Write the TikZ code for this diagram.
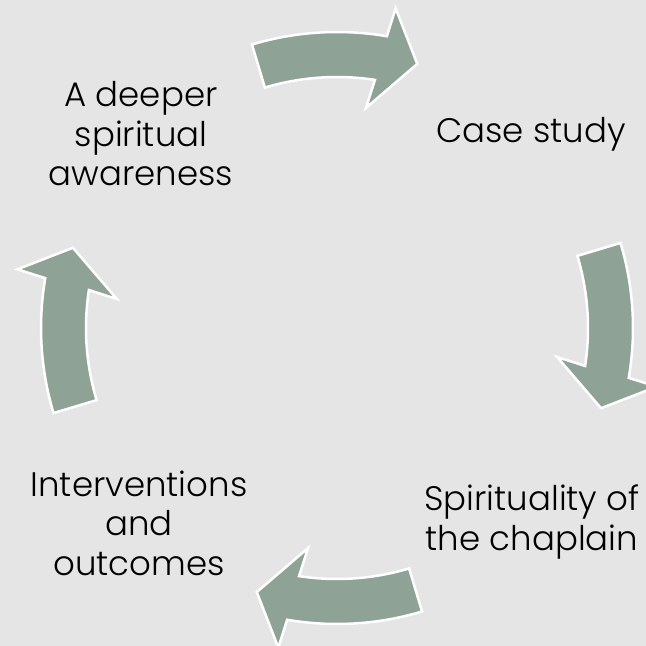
\documentclass[tikz,border=0pt]{standalone}
\usepackage{fontspec}
\IfFontExistsTF{Poppins Light}{\setmainfont{Poppins Light}}{\setmainfont{Poppins}}
\definecolor{bgc}{RGB}{229,229,229}
\definecolor{arrowc}{RGB}{143,162,150}
\tikzset{
  cyclearrow/.style={fill=arrowc, draw=white, line width=2.5pt, line join=miter},
  lbl/.style={align=center, text=black, inner sep=0pt, font={\fontsize{34}{39.5}\selectfont}}
}
\begin{document}
\begin{tikzpicture}[x=1pt,y=1pt]
\useasboundingbox (0,0) rectangle (646,-646);
\clip (0,0) rectangle (646,-646);
\fill[bgc] (0,0) rectangle (646,-646);
\coordinate (c) at (337,-328);
\foreach \r in {0,-90,180,90}{
  \begin{scope}[shift={(c)}, rotate=\r]
    \path[cyclearrow] (106.7:296) arc[start angle=106.7, end angle=80.3, radius=296]
      -- (79.6:325) -- (73.1:276) -- (82.5:222) -- (81.3:251)
      arc[start angle=81.3, end angle=106.7, radius=251] -- cycle;
  \end{scope}
}
\node[lbl] (aware) at (141,-134) {A deeper\\spiritual\\awareness};
\node[lbl] (case) at (531,-134) {Case study};
\node[lbl] (spirit) at (532,-522) {Spirituality of\\the chaplain};
\node[lbl] (inter) at (139,-523) {Interventions\\and\\outcomes};
\end{tikzpicture}
\end{document}
